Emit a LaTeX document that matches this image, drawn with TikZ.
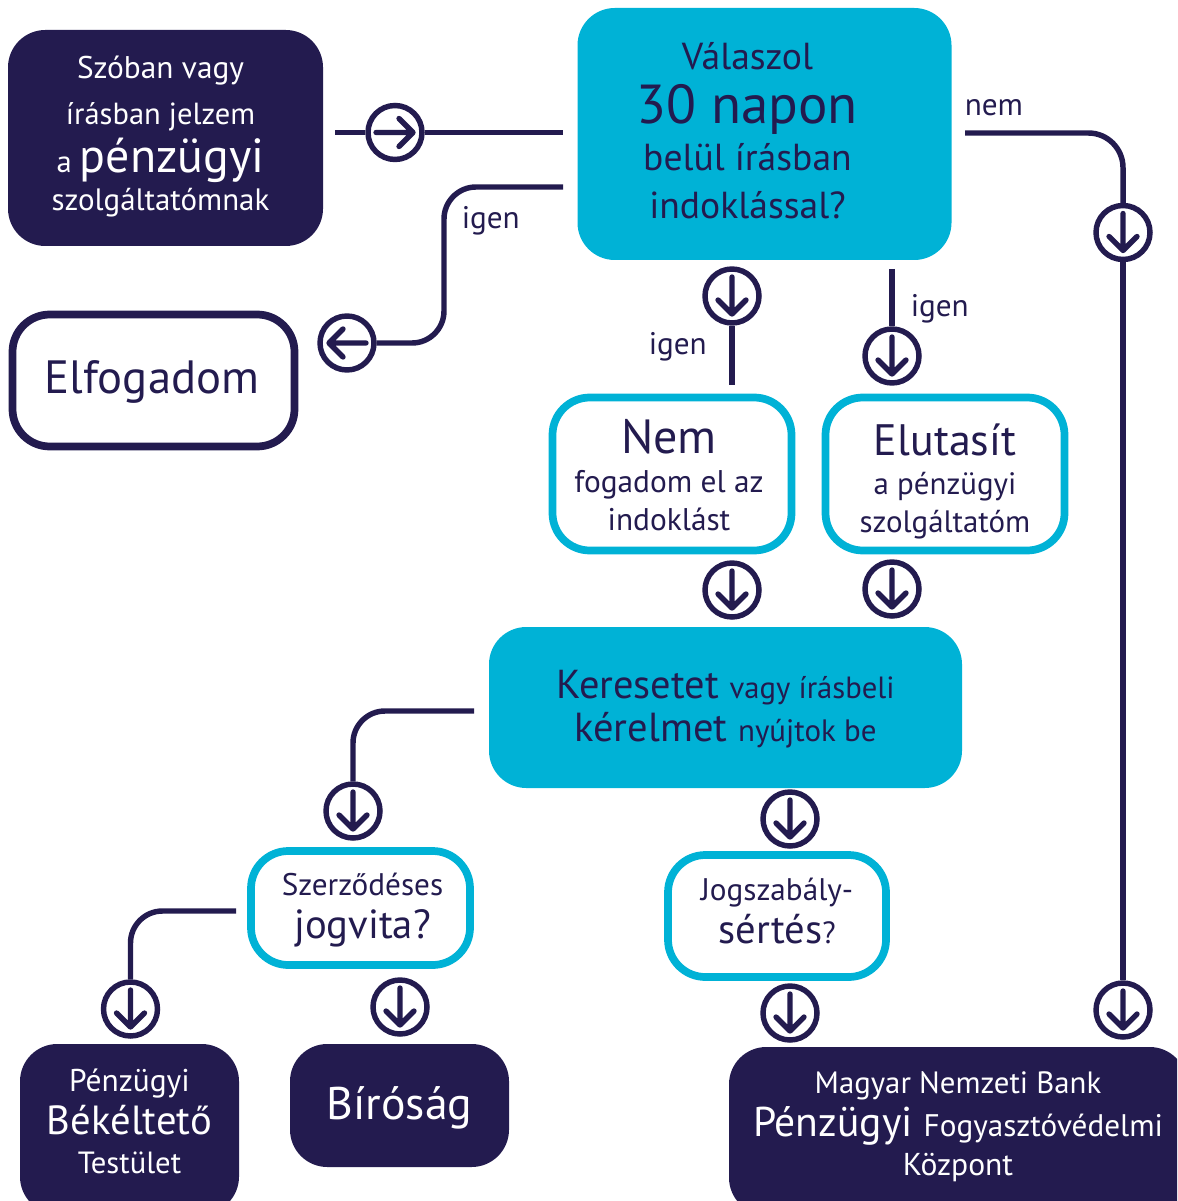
\documentclass[tikz,border=0pt]{standalone}
\usepackage{fontspec}
\setmainfont{PT Sans}
\definecolor{navy}{HTML}{231B4F}
\definecolor{aqua}{HTML}{00B2D6}
\newcommand\fz[1]{\fontsize{#1}{#1}\selectfont}
\newcommand\rowt[2]{\vrule height \dimexpr #1pt*3/4\relax depth 0pt width 0pt\relax\smash{#2}}
\newcommand\pad[1]{\noalign{\vskip \dimexpr #1pt*3/4\relax}}
\newcommand\stackv[2]{\kern\dimexpr #1pt*3/2\relax\vbox{\offinterlineskip\halign{\hfil##\hfil\cr#2}}}
\tikzset{
  x=0.75pt,y=-0.75pt,
  wh/.style 2 args={minimum width=#1*0.75pt,minimum height=#2*0.75pt},
  boxbase/.style={rectangle,inner sep=0pt,rounded corners=28pt},
  darkbox/.style={boxbase,fill=navy,text=white},
  aquabox/.style={boxbase,fill=aqua,text=navy},
  whitebox/.style={boxbase,draw=aqua,fill=white,text=navy,line width=5.8pt},
  elfbox/.style={boxbase,draw=navy,fill=white,text=navy,line width=5.8pt},
  conn/.style={draw=navy,line width=4.1pt},
  lbl/.style={text=navy,inner sep=0pt,font=\fz{23.4}},
  flow/.style={circle,draw=navy,line width=4.1pt,inner sep=0pt,minimum size=40.5pt,fill=white,
    path picture={\begin{scope}[shift={(path picture bounding box.center)}]
      \draw[navy,line width=4pt,line cap=round,line join=round] #1;
    \end{scope}}},
  flowright/.style={flow={(-19,0)--(18,0) (4,-14)--(18,0)--(4,14)}},
  flowleft/.style={flow={(19,0)--(-18,0) (-4,-14)--(-18,0)--(-4,14)}},
  flowdown/.style={flow={(0,-19)--(0,18) (-14,4)--(0,18)--(14,4)}},
}
\begin{document}
\begin{tikzpicture}
\useasboundingbox (0,0) rectangle (1177,1201);
\clip (0,0) rectangle (1177,1201);
% boxes
\node[darkbox,wh={315}{216}] (jelzem) at (165.5,138) {\stackv{-5}{
  \rowt{49}{\fz{23.5}Szóban vagy}\cr
  \rowt{46}{\fz{22.9}írásban jelzem}\cr
  \rowt{48}{\fz{23}a \fz{35.9}pénzügyi}\cr
  \rowt{38}{\fz{23.2}szolgáltatómnak}\cr\pad{35}}};
\node[aquabox,wh={374}{252}] (valaszol) at (764.5,134) {\stackv{-17}{
  \rowt{61.5}{\fz{28.2}Válaszol}\cr
  \rowt{54}{\fz{41.2}30 napon}\cr
  \rowt{47}{\fz{28.2}belül írásban}\cr
  \rowt{48}{\fz{28.2}indoklással?}\cr\pad{41.5}}};
\node[elfbox,wh={282}{132}] (elfogadom) at (153.5,380.5) {\stackv{-1.5}{
  \rowt{78.5}{\fz{35}Elfogadom}\cr\pad{53.5}}};
\node[whitebox,wh={239}{153}] (nem) at (672,474) {\stackv{-3}{
  \rowt{55.5}{\fz{36}Nem}\cr
  \rowt{39}{\fz{23.5}fogadom el az}\cr
  \rowt{38}{\fz{23.5}indoklást}\cr\pad{20.5}}};
\node[whitebox,wh={239}{153}] (elutasit) at (945,474) {\stackv{0}{
  \rowt{57.5}{\fz{33}Elutasít}\cr
  \rowt{39}{\fz{23.2}a pénzügyi}\cr
  \rowt{38}{\fz{23.2}szolgáltatóm}\cr\pad{18.5}}};
\node[aquabox,wh={473}{161}] (kereset) at (725.5,707.5) {\stackv{0}{
  \rowt{71}{\fz{30.3}Keresetet \fz{23}vagy írásbeli}\cr
  \rowt{43}{\fz{30.4}kérelmet \fz{23.2}nyújtok be}\cr\pad{47}}};
\node[whitebox,wh={219}{114}] (szerz) at (360.5,908) {\stackv{2}{
  \rowt{44.5}{\fz{23.4}Szerződéses}\cr
  \rowt{42.5}{\fz{30.5}jogvita?}\cr\pad{27}}};
\node[whitebox,wh={218}{122}] (jog) at (777,916) {\stackv{0}{
  \rowt{45}{\fz{23.4}Jogszabály-}\cr
  \rowt{43}{\fz{30.5}sértés\fz{23}?}\cr\pad{34}}};
\node[darkbox,wh={219}{170}] (bekelteto) at (129.5,1129) {\stackv{0}{
  \rowt{47}{\fz{23.6}Pénzügyi}\cr
  \rowt{43}{\fz{30.5}Békéltető}\cr
  \rowt{39}{\fz{23}Testület}\cr\pad{41}}};
\node[darkbox,wh={219}{123}] (birosag) at (399.5,1105.5) {\stackv{0}{
  \rowt{75}{\fz{34.3}Bíróság}\cr\pad{48}}};
\node[darkbox,wh={458}{168}] (mnb) at (958,1131) {\stackv{0}{
  \rowt{46}{\fz{23.1}Magyar Nemzeti Bank}\cr
  \rowt{43}{\fz{31.2}Pénzügyi \fz{23.4}Fogyasztóvédelmi}\cr
  \rowt{39}{\fz{23.7}Központ}\cr\pad{40}}};
% arrow circles
\node[flowright] (c1) at (395,132.5) {};
\node[flowleft] (c2) at (347,343) {};
\node[flowdown] (c3) at (1123,232.5) {};
\node[flowdown] (c4) at (1123,1010) {};
\node[flowdown] (c5) at (732,296) {};
\node[flowdown] (c6) at (892,356) {};
\node[flowdown] (c7) at (732,590) {};
\node[flowdown] (c8) at (892,589) {};
\node[flowdown] (c9) at (790,819) {};
\node[flowdown] (c10) at (790,1013) {};
\node[flowdown] (c11) at (353,811) {};
\node[flowdown] (c12) at (130.5,1009) {};
\node[flowdown] (c13) at (400,1007) {};
% free ends
\coordinate (e1a) at (335,132.5);
\coordinate (e1b) at (563,132.5);
\coordinate (e2a) at (563,187);
\coordinate (e2b) at (444,187);
\coordinate (e3a) at (965,133);
\coordinate (e5a) at (732,385);
\coordinate (e6a) at (892,269);
\coordinate (e11a) at (474,711);
\coordinate (e12a) at (236,911);
% connectors
\draw[conn] (e1a) -- (c1.west);
\draw[conn] (c1.east) -- (e1b);
\draw[conn,rounded corners=24pt] (e2a) -- (e2b) -- (e2b |- c2) -- (c2.east);
\draw[conn,rounded corners=26pt] (e3a) -| (c3.north);
\draw[conn] (c3.south) -- (c4.north);
\draw[conn] (c5.south) -- (e5a);
\draw[conn] (e6a) -- (c6.north);
\draw[conn,rounded corners=24pt] (e11a) -| (c11.north);
\draw[conn,rounded corners=24pt] (e12a) -| (c12.north);
% labels
\node[lbl,anchor=base west] (lnem) at (964.5,116) {nem};
\node[lbl,anchor=base west] (ligen1) at (461.5,229) {igen};
\node[lbl,anchor=base west] (ligen2) at (910.5,317) {igen};
\node[lbl,anchor=base west] (ligen3) at (648.5,354) {igen};
\end{tikzpicture}
\end{document}
